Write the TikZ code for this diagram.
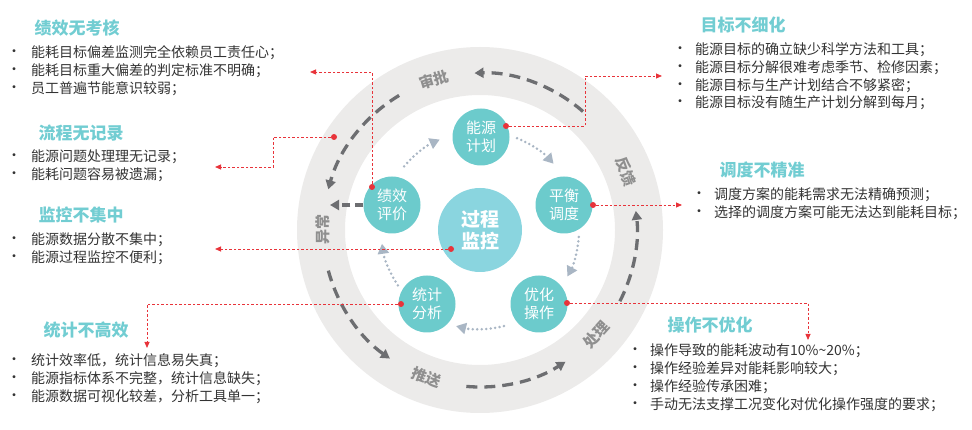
\documentclass[tikz,border=0pt]{standalone}
\usepackage{fontspec}
\setmainfont{Noto Sans CJK SC}
\usetikzlibrary{arrows.meta}
\definecolor{teal1}{HTML}{6CCBCC}
\definecolor{teal2}{HTML}{8AD5DF}
\definecolor{titlec}{HTML}{72CDD2}
\definecolor{ringc}{HTML}{ECEBEA}
\definecolor{dashc}{HTML}{6D6E71}
\definecolor{dotc}{HTML}{A9B6C4}
\definecolor{redc}{HTML}{E8333A}
\definecolor{txtc}{HTML}{333333}
\definecolor{lblc}{HTML}{8F8F8F}
\begin{document}
\begin{tikzpicture}[x=1pt, y=-1pt]
  \useasboundingbox (0, 0) rectangle (972, 430);  % Bildgroesse wie Vorlage.
  \tikzstyle{small}=[circle, fill=teal1, minimum width=57pt, inner sep=0pt, text=white, align=center, font=\fontsize{15}{18}\selectfont]
  \tikzstyle{big}=[circle, fill=teal2, minimum width=84pt, inner sep=0pt, text=white, align=center, font=\fontsize{19}{22}\selectfont\bfseries]
  \tikzstyle{ring}=[draw=dashc, line width=3.3pt, dash pattern=on 11pt off 7pt, -{Triangle[length=9pt, width=10pt]}]
  \tikzstyle{cyc}=[draw=dotc, line width=2.8pt, line cap=round, dash pattern=on 0pt off 4.5pt, -{Triangle[length=10pt, width=11pt, fill=dotc]}]
  \tikzstyle{lbl}=[text=lblc, font=\fontsize{15}{18}\selectfont\bfseries]
  \tikzstyle{link}=[draw=redc, line width=0.8pt, dash pattern=on 2.5pt off 2pt, -{Triangle[length=6pt, width=5pt]}]
  \tikzstyle{pin}=[circle, fill=redc, inner sep=0pt, minimum width=6pt]
  \tikzstyle{head}=[text=titlec, font=\fontsize{17}{20}\selectfont\bfseries]
  \tikzstyle{item}=[anchor=west, inner sep=0pt, text=txtc, font=\fontsize{14}{16}\selectfont]

  % Ring
  \fill [ringc, even odd rule] (480, 230) circle (183) (480, 230) circle (135);
  \coordinate (c) at (480, 230);
  \draw [ring] ([shift={(-49:157)}]c) arc[start angle=-49, end angle=-92, radius=157];
  \draw [ring] ([shift={(-121:157)}]c) arc[start angle=-121, end angle=-165, radius=157];
  \draw [ring] ([shift={(-195:157)}]c) arc[start angle=-195, end angle=-235, radius=157];
  \draw [ring] ([shift={(-265:157)}]c) arc[start angle=-265, end angle=-303, radius=157];
  \draw [ring] ([shift={(-333:157)}]c) arc[start angle=-333, end angle=-367, radius=157];
  \node[lbl, rotate=17]  (l1) at ([shift={(-107:157)}]c) {审批};
  \node[lbl, rotate=90]  (l2) at ([shift={(-180:157)}]c) {异常};
  \node[lbl, rotate=-21] (l3) at ([shift={(-250:157)}]c) {推送};
  \node[lbl, rotate=48]  (l4) at ([shift={(-318:157)}]c) {处理};
  \node[lbl, rotate=-70] (l5) at ([shift={(-22:157)}]c) {反馈};

  % Kreislauf
  \node[big]   (0) at (480, 230) {过程\\监控};
  \node[small] (1) at (481, 137) {能源\\计划};
  \node[small] (2) at (564, 205) {平衡\\调度};
  \node[small] (3) at (539, 304) {优化\\操作};
  \node[small] (4) at (427, 304) {统计\\分析};
  \node[small] (5) at (392, 205) {绩效\\评价};
  \foreach \a/\b in {68/42, -4/-28, -76/-104, -146/-172, 140/114}
    \draw [cyc] ([shift={(-\a:99)}]c) arc[start angle=-\a, end angle=-\b, radius=99];
  \coordinate (e5) at (330, 205);
  \draw [ring, dash pattern=on 8pt off 5pt] (5.west) -- (e5);

  % Linke Texte
  \node[head] (h1) at (77, 28)  {绩效无考核};
  \node[head] (h2) at (81, 133) {流程无记录};
  \node[head] (h3) at (81, 215) {监控不集中};
  \node[head] (h4) at (86, 330) {统计不高效};
  \foreach \y/\t in {53/能耗目标偏差监测完全依赖员工责任心；, 71/能耗目标重大偏差的判定标准不明确；, 89/员工普遍节能意识较弱；,
                     157/能源问题处理理无记录；, 175/能耗问题容易被遗漏；,
                     240/能源数据分散不集中；, 258/能源过程监控不便利；,
                     361/统计效率低，统计信息易失真；, 379/能源指标体系不完整，统计信息缺失；, 397/能源数据可视化较差，分析工具单一；} {
    \node[item] at (31, \y) {\t};
    \node[item] at (7, \y) {\textbullet};
  }

  % Rechte Texte
  \node[head] (h5) at (743, 25)  {目标不细化};
  \node[head] (h6) at (762, 170) {调度不精准};
  \node[head] (h7) at (710, 325) {操作不优化};
  \foreach \x/\y/\t in {695/50/能源目标的确立缺少科学方法和工具；, 695/68/能源目标分解很难考虑季节、检修因素；, 695/86/能源目标与生产计划结合不够紧密；, 695/103/能源目标没有随生产计划分解到每月；,
                        714/195/调度方案的能耗需求无法精确预测；, 714/213/选择的调度方案可能无法达到能耗目标；,
                        650/351/{操作导致的能耗波动有10\%\textasciitilde20\%；}, 650/369/操作经验差异对能耗影响较大；, 650/387/操作经验传承困难；, 650/405/手动无法支撑工况变化对优化操作强度的要求；} {
    \node[item] at (\x, \y) {\t};
    \node[item] at (\x-22, \y) {\textbullet};
  }

  % Verbindungen
  \node[pin] (p1) at (506, 126) {};
  \node[pin] (p2) at (593, 205) {};
  \node[pin] (p3) at (567, 303) {};
  \node[pin] (p4) at (401, 304) {};
  \node[pin] (p5) at (372, 187) {};
  \node[pin] (p0) at (451, 249) {};
  \node[pin] (p6) at (334, 137) {};
  \coordinate (t1) at (662, 76);
  \coordinate (t2) at (682, 205);
  \coordinate (t3) at (808, 340);
  \coordinate (t4) at (147, 348);
  \coordinate (t5) at (310, 72);
  \coordinate (t0) at (215, 249);
  \coordinate (t6) at (215, 167);
  \draw[link] (p1) -- (585, 126) |- (t1);
  \draw[link] (p2) -- (t2);
  \draw[link] (p3) -| (t3);
  \draw[link] (p4) -| (t4);
  \draw[link] (p5) |- (t5);
  \draw[link] (p0) -- (t0);
  \draw[link] (p6) -| (273, 167) -- (t6);
\end{tikzpicture}
\end{document}
